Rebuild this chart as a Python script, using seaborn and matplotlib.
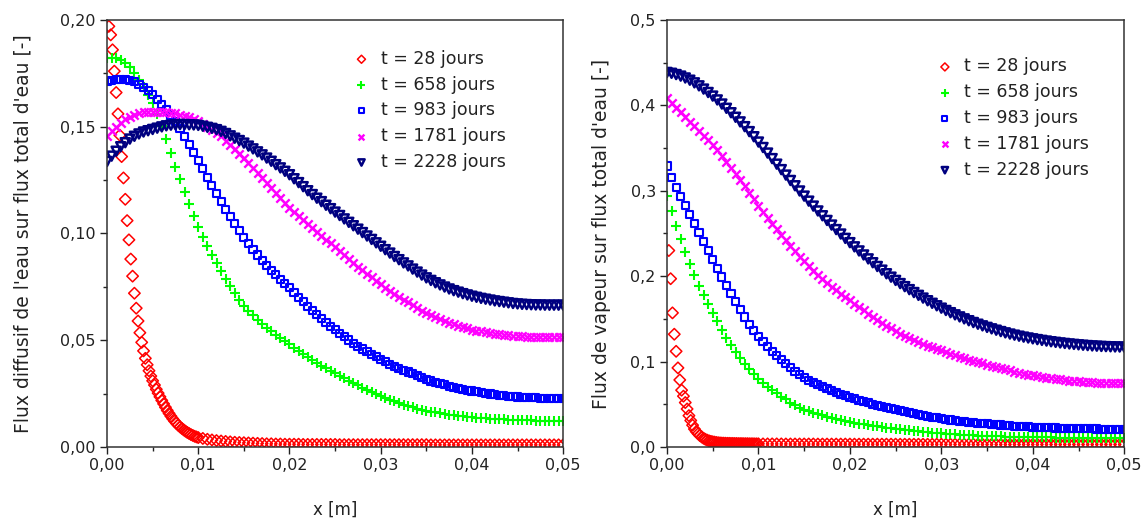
import numpy as np
import matplotlib
matplotlib.use("Agg")
import matplotlib.pyplot as plt
from matplotlib.ticker import FuncFormatter, MultipleLocator
import seaborn as sns

# ---------------- data ----------------
LABELS = ["t = 28 jours", "t = 658 jours", "t = 983 jours", "t = 1781 jours", "t = 2228 jours"]

# x meshes [m]
X_MAIN = np.round(np.arange(0, 101) * 0.0005, 4)          # 0 .. 0.05
X_FINE = np.round(np.arange(1, 51) * 0.0002, 4)           # 0.0002 .. 0.01
X_TAIL = np.round(0.01 + np.arange(1, 81) * 0.0005, 4)    # 0.0105 .. 0.05

# ---- left panel : flux diffusif / flux total ----
L_RED_FINE = [0.197, 0.193, 0.186, 0.176, 0.166, 0.156, 0.146, 0.136, 0.126, 0.116,
              0.106, 0.097, 0.088, 0.080, 0.072, 0.065, 0.059, 0.0535, 0.049, 0.045,
              0.0415, 0.0385, 0.0357, 0.0332, 0.031, 0.029, 0.027, 0.0252, 0.0235, 0.0218,
              0.0202, 0.0186, 0.0171, 0.0157, 0.0144, 0.0132, 0.0121, 0.0111, 0.0102, 0.0094,
              0.0087, 0.0080, 0.0074, 0.0068, 0.0063, 0.0058, 0.0054, 0.0050, 0.0047, 0.0044]
L_RED_TAIL = [0.0040, 0.0036, 0.0033, 0.0030, 0.0028, 0.0026, 0.0024, 0.0022, 0.0021, 0.0020,
              0.0019, 0.0018, 0.0017, 0.0016, 0.0015, 0.0015, 0.0014, 0.0014, 0.0013, 0.0013,
              0.0013, 0.0013, 0.0012, 0.0012, 0.0012, 0.0012, 0.0012, 0.0012, 0.0012, 0.0012,
              0.0011, 0.0011, 0.0011, 0.0011, 0.0011, 0.0011, 0.0011, 0.0011, 0.0011, 0.0011,
              0.0011, 0.0011, 0.0011, 0.0011, 0.0011, 0.0011, 0.0011, 0.0011, 0.0011, 0.0011,
              0.0010, 0.0010, 0.0010, 0.0010, 0.0010, 0.0010, 0.0010, 0.0010, 0.0010, 0.0010,
              0.0010, 0.0010, 0.0010, 0.0010, 0.0010, 0.0010, 0.0010, 0.0010, 0.0010, 0.0010,
              0.0010, 0.0010, 0.0010, 0.0010, 0.0010, 0.0010, 0.0010, 0.0010, 0.0010, 0.0010]
L_GREEN = [0.1820, 0.1822, 0.1820, 0.1812, 0.1798, 0.1778, 0.1752, 0.1720, 0.1684, 0.1650,
           0.1612, 0.1560, 0.1502, 0.1440, 0.1376, 0.1312, 0.1253, 0.1195, 0.1138, 0.1083,
           0.1030, 0.0985, 0.0942, 0.0900, 0.0860, 0.0822, 0.0786, 0.0752, 0.0720, 0.0690,
           0.0662, 0.0638, 0.0616, 0.0595, 0.0576, 0.0558, 0.0541, 0.0525, 0.0509, 0.0494,
           0.0480, 0.0465, 0.0450, 0.0435, 0.0420, 0.0406, 0.0393, 0.0380, 0.0368, 0.0356,
           0.0345, 0.0333, 0.0321, 0.0310, 0.0299, 0.0288, 0.0278, 0.0268, 0.0257, 0.0247,
           0.0238, 0.0229, 0.0221, 0.0213, 0.0205, 0.0198, 0.0192, 0.0186, 0.0180, 0.0175,
           0.0170, 0.0166, 0.0162, 0.0158, 0.0155, 0.0152, 0.0149, 0.0147, 0.0144, 0.0142,
           0.0140, 0.0138, 0.0136, 0.0134, 0.0132, 0.0131, 0.0130, 0.0129, 0.0128, 0.0127,
           0.0126, 0.0125, 0.0124, 0.0124, 0.0123, 0.0123, 0.0122, 0.0122, 0.0122, 0.0122,
           0.0122]
L_BLUE = [0.1710, 0.1716, 0.1720, 0.1722, 0.1722, 0.1718, 0.1710, 0.1698, 0.1684, 0.1668,
          0.1650, 0.1628, 0.1604, 0.1579, 0.1553, 0.1525, 0.1490, 0.1453, 0.1416, 0.1378,
          0.1340, 0.1302, 0.1264, 0.1226, 0.1188, 0.1150, 0.1114, 0.1079, 0.1045, 0.1012,
          0.0980, 0.0952, 0.0925, 0.0899, 0.0874, 0.0850, 0.0828, 0.0807, 0.0786, 0.0765,
          0.0745, 0.0723, 0.0702, 0.0681, 0.0660, 0.0640, 0.0621, 0.0602, 0.0584, 0.0566,
          0.0548, 0.0532, 0.0516, 0.0501, 0.0486, 0.0472, 0.0459, 0.0446, 0.0434, 0.0422,
          0.0410, 0.0399, 0.0388, 0.0378, 0.0369, 0.0360, 0.0351, 0.0342, 0.0334, 0.0325,
          0.0316, 0.0309, 0.0303, 0.0297, 0.0291, 0.0285, 0.0280, 0.0275, 0.0270, 0.0266,
          0.0262, 0.0258, 0.0255, 0.0251, 0.0248, 0.0245, 0.0243, 0.0240, 0.0238, 0.0236,
          0.0234, 0.0233, 0.0232, 0.0231, 0.0230, 0.0229, 0.0229, 0.0228, 0.0228, 0.0228,
          0.0228]
L_MAGENTA = [0.1454, 0.1478, 0.1500, 0.1518, 0.1534, 0.1547, 0.1557, 0.1564, 0.1568, 0.1570,
             0.1571, 0.1571, 0.1570, 0.1568, 0.1566, 0.1563, 0.1557, 0.1551, 0.1543, 0.1535,
             0.1525, 0.1512, 0.1498, 0.1484, 0.1469, 0.1454, 0.1435, 0.1415, 0.1395, 0.1374,
             0.1353, 0.1330, 0.1306, 0.1283, 0.1259, 0.1235, 0.1211, 0.1188, 0.1164, 0.1141,
             0.1119, 0.1100, 0.1081, 0.1063, 0.1044, 0.1026, 0.1008, 0.0989, 0.0971, 0.0953,
             0.0935, 0.0917, 0.0899, 0.0881, 0.0863, 0.0845, 0.0828, 0.0811, 0.0794, 0.0777,
             0.0761, 0.0746, 0.0731, 0.0717, 0.0703, 0.0690, 0.0677, 0.0664, 0.0651, 0.0639,
             0.0628, 0.0618, 0.0608, 0.0599, 0.0590, 0.0582, 0.0575, 0.0568, 0.0562, 0.0556,
             0.0550, 0.0545, 0.0541, 0.0537, 0.0533, 0.0530, 0.0527, 0.0525, 0.0523, 0.0521,
             0.0519, 0.0518, 0.0517, 0.0516, 0.0515, 0.0515, 0.0514, 0.0514, 0.0514, 0.0514,
             0.0514]
L_NAVY = [0.1337, 0.1362, 0.1385, 0.1406, 0.1425, 0.1442, 0.1455, 0.1466, 0.1475, 0.1481,
          0.1487, 0.1493, 0.1499, 0.1504, 0.1507, 0.1509, 0.1510, 0.1510, 0.1509, 0.1508,
          0.1506, 0.1502, 0.1497, 0.1492, 0.1486, 0.1478, 0.1468, 0.1457, 0.1446, 0.1435,
          0.1423, 0.1409, 0.1396, 0.1382, 0.1368, 0.1353, 0.1338, 0.1322, 0.1307, 0.1291,
          0.1275, 0.1256, 0.1238, 0.1219, 0.1200, 0.1182, 0.1165, 0.1149, 0.1132, 0.1116,
          0.1100, 0.1084, 0.1068, 0.1052, 0.1036, 0.1020, 0.1004, 0.0988, 0.0972, 0.0956,
          0.0940, 0.0924, 0.0908, 0.0892, 0.0877, 0.0862, 0.0848, 0.0833, 0.0819, 0.0805,
          0.0792, 0.0780, 0.0769, 0.0759, 0.0749, 0.0740, 0.0732, 0.0725, 0.0718, 0.0712,
          0.0706, 0.0701, 0.0696, 0.0692, 0.0688, 0.0684, 0.0681, 0.0678, 0.0675, 0.0672,
          0.0670, 0.0668, 0.0667, 0.0666, 0.0665, 0.0665, 0.0664, 0.0664, 0.0664, 0.0664,
          0.0664]

# ---- right panel : flux de vapeur / flux total ----
R_RED_FINE = [0.230, 0.197, 0.157, 0.132, 0.112, 0.0926, 0.0785, 0.0665, 0.0595, 0.052,
              0.0445, 0.0367, 0.0310, 0.0255, 0.0210, 0.0180, 0.0155, 0.0133, 0.0117, 0.0102,
              0.0090, 0.0080, 0.0072, 0.0066, 0.0061, 0.0057, 0.0053, 0.0050, 0.0048, 0.0046,
              0.0045, 0.0044, 0.0043, 0.0043, 0.0042, 0.0042, 0.0041, 0.0041, 0.0040, 0.0040,
              0.0040, 0.0039, 0.0039, 0.0039, 0.0038, 0.0038, 0.0038, 0.0037, 0.0037, 0.0037]
R_RED_TAIL = [0.0036, 0.0036, 0.0036, 0.0036, 0.0036, 0.0035, 0.0035, 0.0035, 0.0035, 0.0035,
              0.0035, 0.0035, 0.0034, 0.0034, 0.0034, 0.0034, 0.0034, 0.0034, 0.0034, 0.0034,
              0.0033, 0.0033, 0.0033, 0.0033, 0.0033, 0.0033, 0.0033, 0.0033, 0.0033, 0.0033,
              0.0032, 0.0032, 0.0032, 0.0032, 0.0032, 0.0032, 0.0032, 0.0032, 0.0032, 0.0032,
              0.0031, 0.0031, 0.0031, 0.0031, 0.0031, 0.0031, 0.0031, 0.0031, 0.0031, 0.0031,
              0.0030, 0.0030, 0.0030, 0.0030, 0.0030, 0.0030, 0.0030, 0.0030, 0.0030, 0.0030,
              0.0030, 0.0030, 0.0030, 0.0030, 0.0030, 0.0030, 0.0030, 0.0030, 0.0030, 0.0030,
              0.0030, 0.0030, 0.0030, 0.0030, 0.0030, 0.0030, 0.0030, 0.0030, 0.0030, 0.0030]
R_GREEN = [0.2940, 0.2760, 0.2590, 0.2430, 0.2280, 0.2140, 0.2010, 0.1890, 0.1780, 0.1670,
           0.1570, 0.1470, 0.1370, 0.1275, 0.1190, 0.1110, 0.1040, 0.0975, 0.0912, 0.0854,
           0.0800, 0.0752, 0.0707, 0.0666, 0.0627, 0.0590, 0.0556, 0.0520, 0.0488, 0.0460,
           0.0435, 0.0418, 0.0401, 0.0385, 0.0370, 0.0356, 0.0343, 0.0331, 0.0320, 0.0309,
           0.0293, 0.0283, 0.0274, 0.0265, 0.0257, 0.0249, 0.0241, 0.0234, 0.0227, 0.0219,
           0.0212, 0.0206, 0.0200, 0.0194, 0.0189, 0.0184, 0.0179, 0.0174, 0.0169, 0.0164,
           0.0160, 0.0156, 0.0152, 0.0148, 0.0145, 0.0142, 0.0139, 0.0136, 0.0134, 0.0131,
           0.0129, 0.0127, 0.0125, 0.0123, 0.0122, 0.0120, 0.0119, 0.0118, 0.0117, 0.0116,
           0.0115, 0.0114, 0.0113, 0.0112, 0.0111, 0.0110, 0.0110, 0.0109, 0.0108, 0.0108,
           0.0107, 0.0107, 0.0106, 0.0106, 0.0106, 0.0105, 0.0105, 0.0105, 0.0105, 0.0105,
           0.0105]
R_BLUE = [0.3290, 0.3160, 0.3040, 0.2930, 0.2825, 0.2720, 0.2615, 0.2510, 0.2405, 0.2300,
          0.2195, 0.2090, 0.1990, 0.1895, 0.1800, 0.1705, 0.1612, 0.1522, 0.1437, 0.1360,
          0.1295, 0.1235, 0.1178, 0.1123, 0.1070, 0.1020, 0.0972, 0.0928, 0.0886, 0.0846,
          0.0810, 0.0782, 0.0755, 0.0729, 0.0704, 0.0680, 0.0658, 0.0637, 0.0617, 0.0598,
          0.0580, 0.0563, 0.0547, 0.0531, 0.0516, 0.0501, 0.0486, 0.0472, 0.0459, 0.0446,
          0.0434, 0.0422, 0.0411, 0.0400, 0.0390, 0.0380, 0.0370, 0.0360, 0.0350, 0.0341,
          0.0332, 0.0324, 0.0316, 0.0309, 0.0302, 0.0295, 0.0289, 0.0284, 0.0279, 0.0274,
          0.0270, 0.0265, 0.0261, 0.0257, 0.0253, 0.0249, 0.0245, 0.0242, 0.0239, 0.0236,
          0.0233, 0.0230, 0.0228, 0.0226, 0.0224, 0.0222, 0.0220, 0.0218, 0.0217, 0.0215,
          0.0214, 0.0213, 0.0212, 0.0211, 0.0210, 0.0209, 0.0208, 0.0208, 0.0207, 0.0207,
          0.0207]
R_MAGENTA = [0.4080, 0.4025, 0.3971, 0.3917, 0.3863, 0.3809, 0.3755, 0.3700, 0.3645, 0.3590,
             0.3535, 0.3475, 0.3410, 0.3342, 0.3272, 0.3200, 0.3127, 0.3053, 0.2978, 0.2902,
             0.2827, 0.2755, 0.2683, 0.2614, 0.2548, 0.2483, 0.2418, 0.2353, 0.2290, 0.2230,
             0.2172, 0.2118, 0.2066, 0.2016, 0.1968, 0.1922, 0.1878, 0.1835, 0.1794, 0.1755,
             0.1717, 0.1678, 0.1638, 0.1600, 0.1562, 0.1525, 0.1490, 0.1455, 0.1421, 0.1388,
             0.1356, 0.1328, 0.1302, 0.1277, 0.1253, 0.1230, 0.1208, 0.1187, 0.1167, 0.1148,
             0.1130, 0.1112, 0.1094, 0.1076, 0.1058, 0.1041, 0.1024, 0.1008, 0.0993, 0.0979,
             0.0965, 0.0951, 0.0937, 0.0923, 0.0909, 0.0896, 0.0883, 0.0871, 0.0859, 0.0848,
             0.0838, 0.0829, 0.0820, 0.0812, 0.0804, 0.0797, 0.0790, 0.0784, 0.0778, 0.0773,
             0.0768, 0.0764, 0.0760, 0.0757, 0.0754, 0.0752, 0.0750, 0.0749, 0.0748, 0.0748,
             0.0748]
R_NAVY = [0.4385, 0.4375, 0.4360, 0.4342, 0.4320, 0.4294, 0.4263, 0.4228, 0.4190, 0.4150,
          0.4108, 0.4063, 0.4015, 0.3965, 0.3913, 0.3860, 0.3806, 0.3750, 0.3692, 0.3632,
          0.3570, 0.3506, 0.3441, 0.3376, 0.3311, 0.3247, 0.3183, 0.3120, 0.3058, 0.2997,
          0.2937, 0.2878, 0.2820, 0.2763, 0.2707, 0.2652, 0.2598, 0.2545, 0.2493, 0.2442,
          0.2392, 0.2343, 0.2295, 0.2248, 0.2202, 0.2157, 0.2113, 0.2070, 0.2028, 0.1988,
          0.1950, 0.1913, 0.1877, 0.1842, 0.1808, 0.1775, 0.1743, 0.1712, 0.1682, 0.1653,
          0.1625, 0.1598, 0.1572, 0.1547, 0.1523, 0.1500, 0.1478, 0.1457, 0.1437, 0.1418,
          0.1400, 0.1383, 0.1367, 0.1351, 0.1336, 0.1322, 0.1309, 0.1297, 0.1286, 0.1276,
          0.1266, 0.1257, 0.1248, 0.1240, 0.1232, 0.1225, 0.1218, 0.1212, 0.1206, 0.1201,
          0.1196, 0.1191, 0.1187, 0.1183, 0.1180, 0.1177, 0.1175, 0.1173, 0.1171, 0.1170,
          0.1169]

X_LABEL = "x [m]"
Y_LABEL_LEFT = "Flux diffusif de l'eau sur flux total d'eau [-]"
Y_LABEL_RIGHT = "Flux de vapeur sur flux total d'eau [-]"

# ---------------- style ----------------
sns.set_style("ticks")
plt.rcParams["font.family"] = ["DejaVu Sans"]

STYLES = [
    dict(marker="D", color="#ff0000", s=34, facecolor="none", edgecolor="#ff0000", linewidth=1.1),
    dict(marker="+", color="#00ff00", s=55, linewidth=1.5),
    dict(marker="s", color="#0000ff", s=26, facecolor="none", edgecolor="#0000ff", linewidth=1.5),
    dict(marker="x", color="#ff00ff", s=36, linewidth=1.7),
    dict(marker="v", color="#000080", s=42, facecolor="none", edgecolor="#000080", linewidth=1.8),
]

red_x = np.concatenate([X_FINE, X_TAIL])
panels = [
    dict(series=[(red_x, L_RED_FINE + L_RED_TAIL), (X_MAIN, L_GREEN), (X_MAIN, L_BLUE),
                 (X_MAIN, L_MAGENTA), (X_MAIN, L_NAVY)],
         ylim=(0, 0.2), ymaj=0.05, ydec=2, ylabel=Y_LABEL_LEFT, ylabelpad=20,
         rect=[0.0934, 0.147, 0.398, 0.815], leg=(0.535, 0.93)),
    dict(series=[(red_x, R_RED_FINE + R_RED_TAIL), (X_MAIN, R_GREEN), (X_MAIN, R_BLUE),
                 (X_MAIN, R_MAGENTA), (X_MAIN, R_NAVY)],
         ylim=(0, 0.5), ymaj=0.1, ydec=1, ylabel=Y_LABEL_RIGHT, ylabelpad=14,
         rect=[0.582, 0.147, 0.399, 0.815], leg=(0.585, 0.912)),
]

fig = plt.figure(figsize=(11.46, 5.24), dpi=100)
fig.patch.set_facecolor("white")

for p in panels:
    ax = fig.add_axes(p["rect"])
    for (xs, ys), st, lab in zip(p["series"], STYLES, LABELS):
        sns.scatterplot(x=np.asarray(xs), y=np.asarray(ys), ax=ax, label=lab, legend=False, **st)
    ax.set_xlim(0, 0.05)
    ax.set_ylim(*p["ylim"])
    ax.xaxis.set_major_locator(MultipleLocator(0.01))
    ax.xaxis.set_minor_locator(MultipleLocator(0.005))
    ax.yaxis.set_major_locator(MultipleLocator(p["ymaj"]))
    ax.yaxis.set_minor_locator(MultipleLocator(p["ymaj"] / 2))
    ax.xaxis.set_major_formatter(FuncFormatter(lambda v, _: f"{v:.2f}".replace(".", ",")))
    dec = p["ydec"]
    ax.yaxis.set_major_formatter(FuncFormatter(lambda v, _, d=dec: f"{v:.{d}f}".replace(".", ",")))
    ax.tick_params(which="major", direction="out", length=5, width=1.0, labelsize=11.5, pad=3,
                   colors="#222222", labelcolor="#222222")
    ax.tick_params(which="minor", direction="out", length=3, width=1.0, colors="#222222")
    for sp in ax.spines.values():
        sp.set_visible(True)
        sp.set_linewidth(1.1)
        sp.set_color("#333333")
    ax.set_xlabel(X_LABEL, fontsize=12, labelpad=20, color="#222222")
    ax.set_ylabel(p["ylabel"], fontsize=13.5, labelpad=p["ylabelpad"], color="#222222")
    ax.legend(loc="upper left", bbox_to_anchor=p["leg"], frameon=False, fontsize=12.5,
              scatterpoints=1, markerscale=0.7, handletextpad=0.5, labelspacing=0.45,
              borderpad=0, borderaxespad=0, handlelength=1.2, labelcolor="#222222")

fig.savefig("out.png", dpi=100, facecolor="white")
